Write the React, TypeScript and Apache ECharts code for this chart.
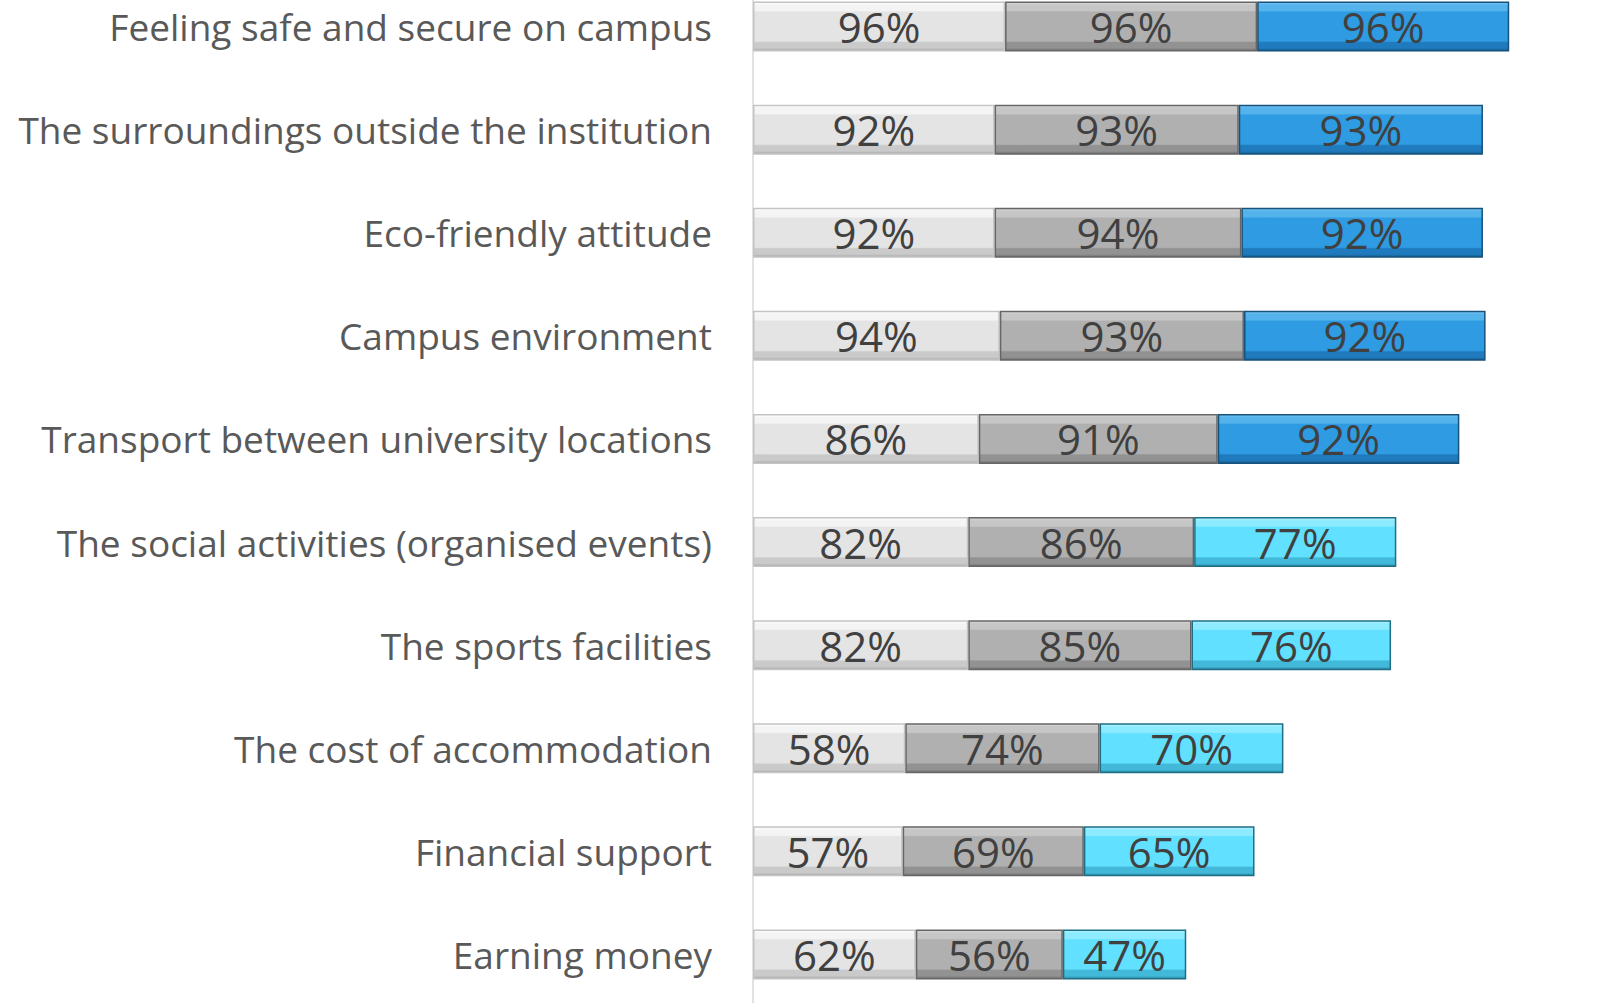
import React, { useEffect, useRef } from "react";
import * as echarts from "echarts";

const categories = [
  "Feeling safe and secure on campus",
  "The surroundings outside the institution",
  "Eco-friendly attitude",
  "Campus environment",
  "Transport between university locations",
  "The social activities (organised events)",
  "The sports facilities",
  "The cost of accommodation",
  "Financial support",
  "Earning money",
];

const series1 = [96, 92, 92, 94, 86, 82, 82, 58, 57, 62];
const series2 = [96, 93, 94, 93, 91, 86, 85, 74, 69, 56];
const series3 = [96, 93, 92, 92, 92, 77, 76, 70, 65, 47];

const HIGH_THRESHOLD = 90;

function bevel(edgeTop: string, top: string, face: string, bottom: string, edgeBottom: string) {
  return new echarts.graphic.LinearGradient(0, 0, 0, 1, [
    { offset: 0, color: edgeTop },
    { offset: 0.06, color: top },
    { offset: 0.17, color: top },
    { offset: 0.2, color: face },
    { offset: 0.8, color: face },
    { offset: 0.83, color: bottom },
    { offset: 0.94, color: bottom },
    { offset: 1, color: edgeBottom },
  ]);
}

export default function App() {
  const ref = useRef<HTMLDivElement>(null);
  useEffect(() => {
    if (!ref.current) return;
    const chart = echarts.init(ref.current, undefined, { renderer: "svg" });
    const label = {
      show: true,
      position: "inside",
      formatter: "{c}%",
      fontFamily: "Open Sans",
      fontSize: 42,
      lineHeight: 44,
      color: "#404040",
    };
    const darkStyle = {
      color: bevel("#7CC6F2", "#55B3EC", "#2E9BE3", "#1F7BBD", "#145C8E"),
      borderColor: "#17527C",
      borderWidth: 1.5,
    };
    const lightStyle = {
      color: bevel("#B8F4FF", "#8DEBFF", "#62E0FF", "#42B9D8", "#2A8AA6"),
      borderColor: "#1F6E86",
      borderWidth: 1.5,
    };
    chart.setOption({
      animation: false,
      backgroundColor: "#ffffff",
      grid: { left: 753, right: 6, top: 0, bottom: 0, containLabel: false },
      xAxis: {
        type: "value",
        min: 0,
        max: 326,
        show: false,
      },
      yAxis: {
        type: "category",
        inverse: true,
        data: categories,
        axisLine: { show: true, lineStyle: { color: "#D9D9D9", width: 1.5 } },
        axisTick: { show: false },
        axisLabel: {
          margin: 41,
          fontFamily: "Open Sans",
          fontSize: 37,
          color: "#595959",
        },
      },
      series: [
        {
          type: "bar",
          stack: "s",
          barWidth: 50,
          data: series1,
          label,
          itemStyle: {
            color: bevel("#FFFFFF", "#F4F4F4", "#E4E4E4", "#CACACA", "#A8A8A8"),
            borderColor: "#C4C4C4",
            borderWidth: 1.5,
          },
        },
        {
          type: "bar",
          stack: "s",
          barWidth: 50,
          data: series2,
          label,
          itemStyle: {
            color: bevel("#DADADA", "#C6C6C6", "#B0B0B0", "#929292", "#6E6E6E"),
            borderColor: "#666666",
            borderWidth: 1.5,
          },
        },
        {
          type: "bar",
          stack: "s",
          barWidth: 50,
          label,
          data: series3.map((v) => ({
            value: v,
            itemStyle: v >= HIGH_THRESHOLD ? darkStyle : lightStyle,
          })),
        },
      ],
    });
    return () => chart.dispose();
  }, []);
  return (
    <div
      style={{
        position: "fixed",
        left: 0,
        top: 0,
        width: 1615,
        height: 1003,
        overflow: "hidden",
        background: "#fff",
      }}
    >
      <div
        ref={ref}
        style={{ position: "absolute", left: 0, top: -25, width: 1615, height: 1031 }}
      />
    </div>
  );
}
